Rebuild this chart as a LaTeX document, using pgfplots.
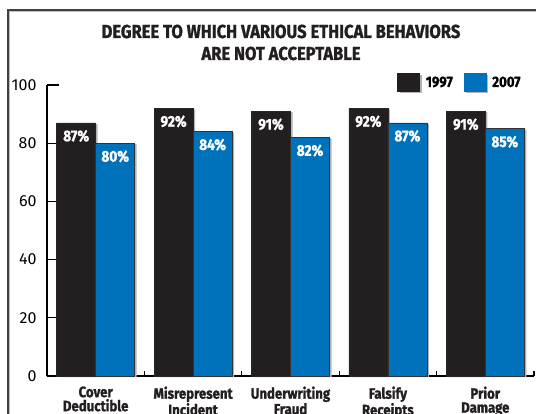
\documentclass[border=0pt]{standalone}
\usepackage{fontspec}
\setmainfont{Fira Sans}
\newfontfamily\condb{Fira Sans}[FakeStretch=0.88, FakeBold=1.2]
\usepackage{pgfplots}
\pgfplotsset{compat=1.18}
\definecolor{barblack}{HTML}{231F20}
\definecolor{barblue}{HTML}{0072BC}
\begin{document}
\begin{tikzpicture}
\useasboundingbox (0pt,0pt) rectangle (536pt,413pt);
\draw[black!25, line width=1.5pt] (9.5pt,-5pt) -- (9.5pt,401.5pt) -- (545pt,401.5pt);
\draw[black!75, line width=1.4pt] (8pt,-5pt) -- (8pt,403pt) -- (545pt,403pt);
\node[font=\condb\bfseries\fontsize{18.8}{21}\selectfont, anchor=base, text=barblack] at (281pt,375pt) {DEGREE TO WHICH VARIOUS ETHICAL BEHAVIORS};
\node[font=\condb\bfseries\fontsize{18.8}{21}\selectfont, anchor=base, text=barblack] at (281pt,353pt) {ARE NOT ACCEPTABLE};
\begin{axis}[
  at={(47pt,37pt)}, anchor=south west,
  scale only axis, width=487pt, height=291pt,
  xmin=-0.5, xmax=4.5, ymin=0, ymax=100,
  axis x line*=bottom, axis y line*=left,
  axis line style={line width=1.3pt, black},
  ybar=0pt, bar width=39pt,
  tick align=inside,
  major tick length=12pt,
  minor tick length=5pt,
  ytick={0,20,...,100},
  ytick style={line width=1.3pt, black},
  xtick={0,...,4},
  xticklabels={{Cover\\Deductible},{Misrepresent\\Incident},{Underwriting\\Fraud},{Falsify\\Receipts},{Prior\\Damage}},
  major x tick style={draw=none},
  minor xtick={-0.5,0.5,...,4.5},
  minor x tick style={line width=1.3pt, black},
  /pgf/number format/assume math mode=true,
  yticklabel style={font=\fontsize{16}{16}\selectfont, xshift=-7pt},
  xticklabel style={align=center, font=\condb\bfseries\fontsize{15}{14}\selectfont, text=barblack, yshift=-7pt},
  nodes near coords={\pgfmathprintnumber{\pgfplotspointmeta}\%},
  every node near coord/.append style={anchor=north, yshift=-7pt, inner sep=0pt, text=white, font=\condb\bfseries\fontsize{15.5}{15.5}\selectfont},
  legend style={at={(0.719,1.041)}, anchor=north west, draw=none, fill=none, legend columns=2, inner sep=0pt,
    font=\condb\bfseries\fontsize{15}{15}\selectfont,
    /tikz/every even column/.append style={column sep=9pt}},
  clip=false,
]
\addplot[fill=barblack, draw=black!85, line width=0.5pt,
  preaction={fill=black!30, draw=none, transform canvas={xshift=2pt, yshift=-1pt}},
  legend image code/.code={\fill[barblack] (0pt,-9pt) rectangle (22pt,9pt); \path (26pt,0pt);}]
  coordinates {(0,87) (1,92) (2,91) (3,92) (4,91)};
\addplot[fill=barblue, draw=black!80, line width=0.5pt,
  preaction={fill=black!30, draw=none, transform canvas={xshift=2pt, yshift=-1pt}},
  legend image code/.code={\fill[barblue] (0pt,-9pt) rectangle (22pt,9pt); \path (26pt,0pt);}]
  coordinates {(0,80) (1,84) (2,82) (3,87) (4,85)};
\addlegendentry{1997}
\addlegendentry{2007}
\end{axis}
\end{tikzpicture}
\end{document}
